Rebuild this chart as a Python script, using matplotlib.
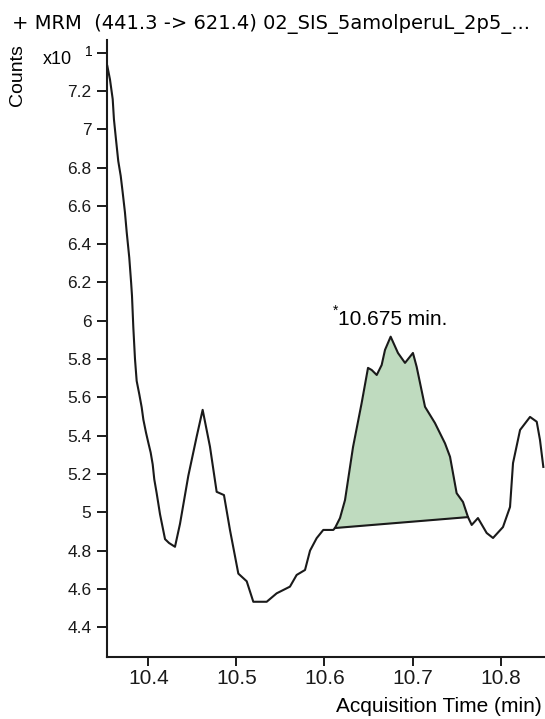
import numpy as np
import matplotlib
matplotlib.use("Agg")
import matplotlib.pyplot as plt

plt.rcParams['font.family'] = ['Liberation Sans', 'DejaVu Sans']

# chromatogram trace (acquisition time in min, counts x10^1)
time = [10.3535, 10.3565, 10.3596, 10.361, 10.3633, 10.3659, 10.3687, 10.3709, 10.3735,
        10.3755, 10.3784, 10.3805, 10.3815, 10.383, 10.3849, 10.3868, 10.3898, 10.3925,
        10.3944, 10.3974, 10.400, 10.4027, 10.405, 10.4068, 10.4095, 10.4133, 10.419,
        10.4235, 10.4303, 10.436, 10.4454, 10.4549, 10.4617, 10.470, 10.4776, 10.4859,
        10.4927, 10.5022, 10.5117, 10.5192, 10.5344, 10.5457, 10.5608, 10.5684, 10.5779,
        10.5836, 10.5911, 10.5986, 10.610, 10.6119, 10.6176, 10.6233, 10.6324, 10.6422,
        10.6494, 10.6536, 10.6593, 10.6649, 10.6687, 10.6751, 10.6834, 10.6914, 10.7004,
        10.7046, 10.7141, 10.7254, 10.7368, 10.7425, 10.750, 10.7572, 10.7629, 10.7671,
        10.7742, 10.7841, 10.7913, 10.8026, 10.8106, 10.814, 10.822, 10.8333, 10.8409,
        10.8446, 10.8484]
counts = [7.33, 7.26, 7.157, 7.052, 6.948, 6.834, 6.756, 6.671, 6.566,
          6.462, 6.33, 6.20, 6.13, 5.966, 5.80, 5.686, 5.616, 5.548,
          5.484, 5.416, 5.364, 5.312, 5.25, 5.172, 5.10, 4.99, 4.86,
          4.84, 4.82, 4.94, 5.19, 5.395, 5.535, 5.343, 5.107, 5.09,
          4.908, 4.68, 4.64, 4.533, 4.533, 4.577, 4.612, 4.673, 4.699,
          4.80, 4.865, 4.908, 4.908, 4.918, 4.970, 5.064, 5.341, 5.571,
          5.754, 5.743, 5.717, 5.769, 5.848, 5.917, 5.832, 5.780, 5.832,
          5.760, 5.551, 5.466, 5.36, 5.29, 5.10, 5.054, 4.975, 4.934,
          4.970, 4.892, 4.866, 4.923, 5.028, 5.257, 5.430, 5.498, 5.473,
          5.378, 5.237]

# integrated peak baseline
base_x = [10.6119, 10.7629]
base_y = [4.918, 4.975]
peak_label = '10.675 min.'

xticks = [10.4, 10.5, 10.6, 10.7, 10.8]
yticks = [4.4, 4.6, 4.8, 5.0, 5.2, 5.4, 5.6, 5.8, 6.0, 6.2, 6.4, 6.6, 6.8, 7.0, 7.2]

fig = plt.figure(figsize=(5.45, 7.19), dpi=100)
ax = fig.add_axes([0.1958, 0.0858, 0.8042, 0.8586])

t = np.array(time)
c = np.array(counts)
m = (t >= base_x[0] - 1e-9) & (t <= base_x[1] + 1e-9)
ax.fill_between(t[m], c[m], np.interp(t[m], base_x, base_y), color='#bfdbbf', lw=0)
ax.plot(base_x, base_y, color='#1a1a1a', lw=1.5)
ax.plot(t, c, color='#1a1a1a', lw=1.5)

ax.text(10.6775, 5.976, peak_label, ha='center', va='baseline', fontsize=15)
ax.text(10.6095, 6.088, '*', ha='left', va='top', fontsize=10)

ax.set_xlim(10.3528, 10.8503)
ax.set_ylim(4.243, 7.466)
ax.set_xticks(xticks)
ax.set_xticklabels(['%g' % v for v in xticks], fontsize=15)
ax.set_yticks(yticks + [7.4])
ax.set_yticklabels(['%g' % v for v in yticks] + [''], fontsize=12.5)

for s in ['top', 'right']:
    ax.spines[s].set_visible(False)
for s in ['left', 'bottom']:
    ax.spines[s].set_linewidth(1.5)
    ax.spines[s].set_color('#1a1a1a')
ax.tick_params(axis='y', length=7, width=1.4, pad=4, colors='#1a1a1a')
ax.tick_params(axis='x', length=6.5, width=1.4, pad=2, colors='#1a1a1a')

fig.text(12 / 545, 1 - 23.5 / 719, '+ MRM  (441.3 -> 621.4) 02_SIS_5amolperuL_2p5_...',
         ha='left', va='center', fontsize=14, family='DejaVu Sans')
fig.text(17.5 / 545, 1 - 75 / 719, 'Counts', rotation=90, ha='center', va='center', fontsize=14)
fig.text(43 / 545, 1 - 60 / 719, 'x10', ha='left', va='center', fontsize=13)
fig.text(85 / 545, 1 - 52.5 / 719, '1', ha='left', va='center', fontsize=10)
fig.text(542 / 545, 1 - 707 / 719, 'Acquisition Time (min)', ha='right', va='center', fontsize=15)

fig.savefig('out.png', dpi=100)
